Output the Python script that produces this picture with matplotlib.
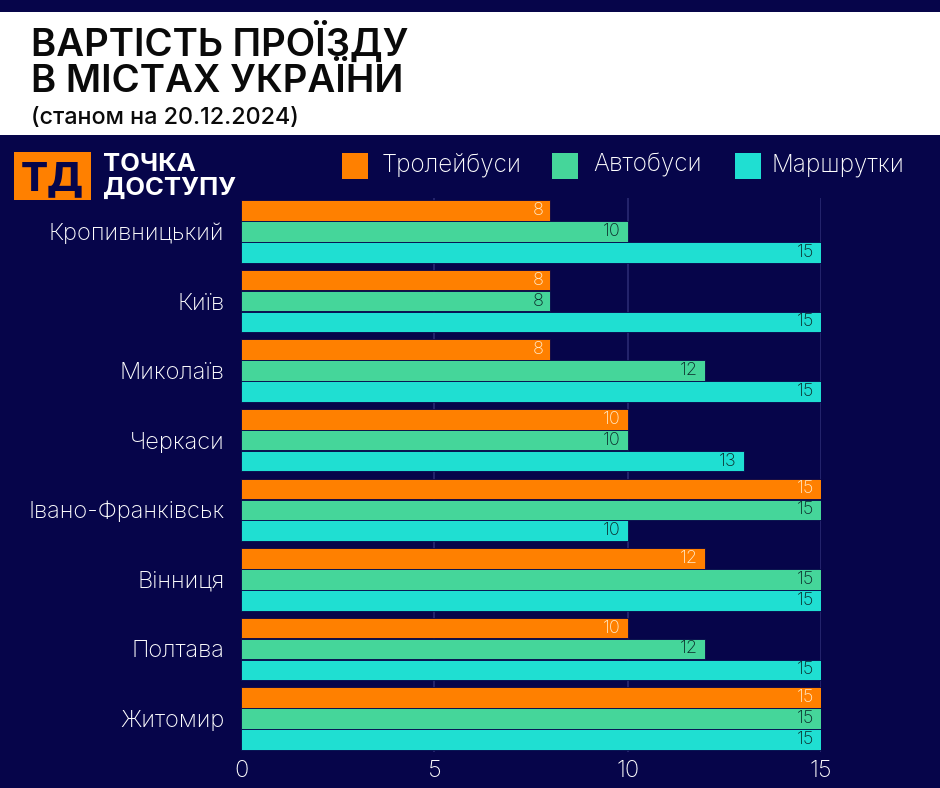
import matplotlib
matplotlib.use("Agg")
import matplotlib.pyplot as plt
from matplotlib.patches import Rectangle
import numpy as np

cities = ["Кропивницький", "Київ", "Миколаїв", "Черкаси", "Івано-Франківськ",
          "Вінниця", "Полтава", "Житомир"]
trolleybus = [8, 8, 8, 10, 15, 12, 10, 15]
bus = [10, 8, 12, 10, 15, 15, 12, 15]
minibus = [15, 15, 15, 13, 10, 15, 15, 15]
series_names = ["Тролейбуси", "Автобуси", "Маршрутки"]
x_ticks = [0, 5, 10, 15]

NAVY = "#06054a"
ORANGE = "#ff8000"
GREEN = "#45d69a"
CYAN = "#1fdfd2"
colors = [ORANGE, GREEN, CYAN]
label_colors = ["#ffeccc", "#0b2a2a", "#0b2a2a"]

FONT = ["Inter", "DejaVu Sans"]
plt.rcParams["font.family"] = FONT

W, H = 940, 788
fig = plt.figure(figsize=(W / 100, H / 100), dpi=100)
fig.patch.set_facecolor(NAVY)

def fx(px):
    return px / W

def fy(py):
    return 1 - py / H

# white header band
fig.patches.append(Rectangle((0, fy(135)), 1, (135 - 12) / H, transform=fig.transFigure,
                             facecolor="white", edgecolor="none", zorder=0))

fig.text(fx(31), fy(56), "ВАРТІСТЬ ПРОЇЗДУ", fontsize=27.6, fontweight="semibold",
         color="#0a0a0a", ha="left", va="baseline")
fig.text(fx(31), fy(92), "В МІСТАХ УКРАЇНИ", fontsize=27.6, fontweight="semibold",
         color="#0a0a0a", ha="left", va="baseline")
fig.text(fx(31), fy(124), "(станом на 20.12.2024)", fontsize=16.8, fontweight="medium",
         color="#0a0a0a", ha="left", va="baseline")

# logo
fig.patches.append(Rectangle((fx(14), fy(200)), fx(91) - fx(14), (200 - 152) / H,
                             transform=fig.transFigure, facecolor=ORANGE,
                             edgecolor="none", zorder=1))
fig.text(fx(52), fy(190), "ТД", fontsize=29, fontweight="heavy", color=NAVY,
         ha="center", va="baseline", zorder=2)
fig.text(fx(103), fy(171), "ТОЧКА", fontsize=18.5, fontweight="bold", color="white",
         ha="left", va="baseline")
fig.text(fx(103), fy(195), "ДОСТУПУ", fontsize=18.5, fontweight="bold", color="white",
         ha="left", va="baseline")

# legend
leg_sq_x = [342, 552, 735]
leg_tx_x = [382, 593, 771]
for sx, tx, c, name in zip(leg_sq_x, leg_tx_x, colors, series_names):
    fig.patches.append(Rectangle((fx(sx), fy(179)), 26 / W, 26 / H,
                                 transform=fig.transFigure, facecolor=c,
                                 edgecolor="none", zorder=1))
    fig.text(fx(tx), fy(165), name, fontsize=17.5, color="white",
             ha="left", va="center", fontweight="light")

# axes
ax = fig.add_axes([fx(241), fy(752), fx(821) - fx(241), (752 - 198) / H])
ax.set_facecolor(NAVY)
y = np.arange(len(cities))
offsets = [-0.3, 0.0, 0.3]
for vals, off, c, lc in zip([trolleybus, bus, minibus], offsets, colors, label_colors):
    bars = ax.barh(y + off, vals, height=0.295, color=c, edgecolor=NAVY,
                   linewidth=0.6, zorder=3)
    texts = ax.bar_label(bars, labels=[str(v) for v in vals], padding=-5,
                         label_type="edge", color=lc, fontsize=13,
                         fontweight="light", zorder=4, fontfamily=FONT)
    for t in texts:
        t.set_horizontalalignment("right")

ax.set_xlim(0, 15)
ax.set_ylim(7.48, -0.48)
ax.set_xticks(x_ticks)
ax.set_xticklabels([str(t) for t in x_ticks])
ax.set_yticks(y)
ax.set_yticklabels(cities)
ax.tick_params(axis="both", length=0, colors="white", labelsize=17)
ax.tick_params(axis="y", pad=12)
ax.tick_params(axis="x", pad=6)
for lab in ax.get_xticklabels() + ax.get_yticklabels():
    lab.set_fontweight("light")
for s in ax.spines.values():
    s.set_visible(False)
for gx in x_ticks[1:]:
    ax.axvline(gx, color="#2a2a72", linewidth=1.2, zorder=1)

fig.savefig("out.png", dpi=100, facecolor=NAVY)
